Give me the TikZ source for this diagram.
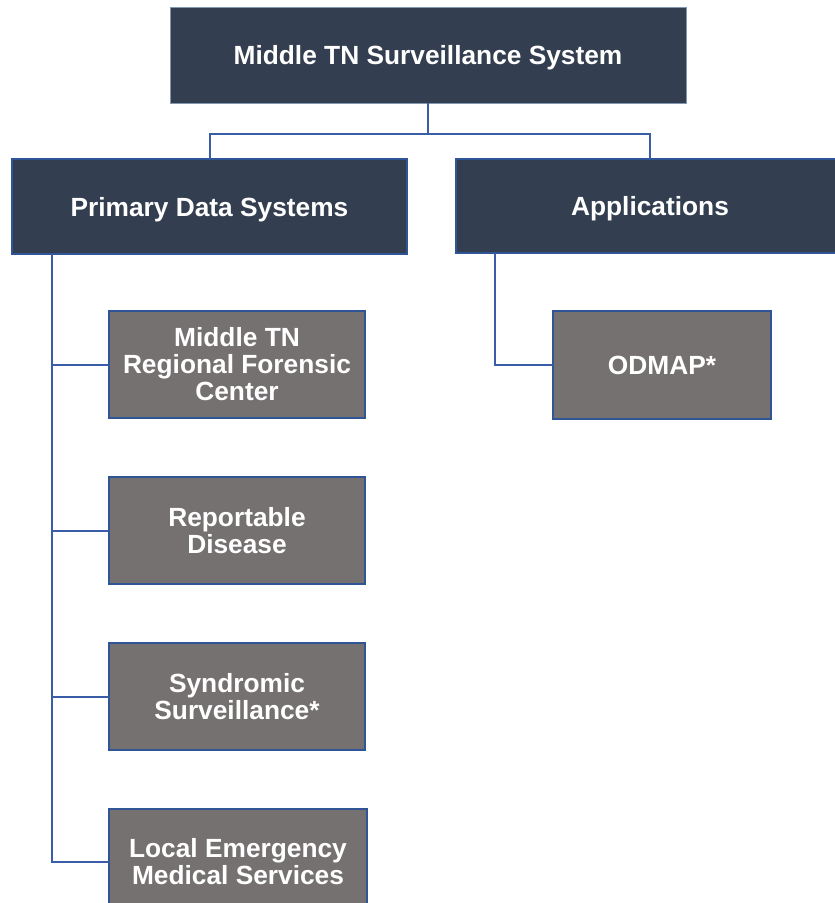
\documentclass[tikz,border=0pt]{standalone}
\usepackage{fontspec}
\setmainfont{Liberation Sans}
\definecolor{darkbox}{HTML}{333F50}
\definecolor{graybox}{HTML}{767171}
\definecolor{edgeblue}{HTML}{2F5597}
\definecolor{linkblue}{HTML}{3A5DA8}
\definecolor{topedge}{HTML}{8497B0}
\begin{document}
\begin{tikzpicture}[x=1pt,y=-1pt,
  boxtext/.style={font=\bfseries\fontsize{26.3}{27}\selectfont, text=white, align=center, inner sep=0pt, outer sep=0pt},
  headbox/.style={boxtext, rectangle, fill=darkbox, draw=edgeblue, line width=1.5pt, text depth=0pt},
  leafbox/.style={boxtext, rectangle, fill=graybox, draw=edgeblue, line width=2pt, minimum width=256pt, minimum height=107pt},
  link/.style={draw=linkblue, line width=2pt}]
\useasboundingbox (0,0) rectangle (835,903);
\fill[white] (0,0) rectangle (835,903);
% header boxes
\node[headbox, draw=topedge, line width=1pt, minimum width=516pt, minimum height=96pt] (top) at (428,55) {Middle TN Surveillance System};
\node[headbox, minimum width=395pt, minimum height=95pt] (prim) at (209.5,206.5) {Primary Data Systems};
\node[headbox, minimum width=388pt, minimum height=94pt] (apps) at (650,206) {Applications};
% leaves
\node[leafbox] (l1) at (237,364.5) {Middle TN\\Regional Forensic\\Center};
\node[leafbox] (l2) at (237,530.5) {Reportable\\Disease};
\node[leafbox] (l3) at (237,696.5) {Syndromic\\Surveillance*};
\node[leafbox, minimum width=258pt] (l4) at (238,862) {Local Emergency\\Medical Services};
\node[leafbox, minimum width=218pt, minimum height=108pt] (od) at (662,365) {ODMAP*};
% connectors
\coordinate (bus) at (428,134);
\draw[link] (top.south) -- (bus);
\draw[link] (bus) -| (prim.north);
\draw[link] (bus) -| (apps.north);
\coordinate (pv) at (52,254);
\coordinate (av) at (495,253);
\draw[link] (pv) |- (l4.west);
\draw[link] (pv |- l1.west) -- (l1.west);
\draw[link] (pv |- l2.west) -- (l2.west);
\draw[link] (pv |- l3.west) -- (l3.west);
\draw[link] (av) |- (od.west);
\end{tikzpicture}
\end{document}
